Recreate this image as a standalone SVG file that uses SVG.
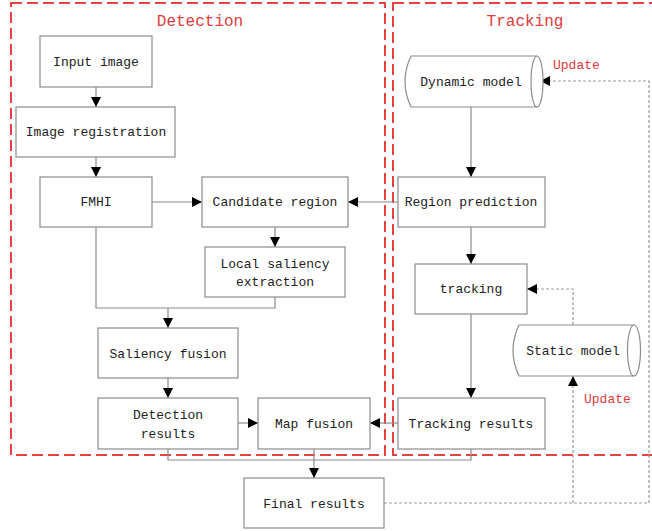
<svg xmlns="http://www.w3.org/2000/svg" width="652" height="531" viewBox="0 0 652 531">
<defs>
<marker id="ah" viewBox="0 0 10 10" refX="10" refY="5" markerWidth="10" markerHeight="10" markerUnits="userSpaceOnUse" orient="auto">
<path d="M0,0 L10,5 L0,10 z" fill="#000"/>
</marker>
<style>
.box{fill:#fff;stroke:#8c8c8c;stroke-width:1.2}
.t{font-family:"Liberation Mono",monospace;font-size:13px;fill:#222;text-anchor:middle}
.grp{fill:none;stroke:#e8413f;stroke-width:2;stroke-dasharray:11,5}
.gt{font-family:"Liberation Mono",monospace;font-size:16px;fill:#e03a3a;text-anchor:middle}
.up{font-family:"Liberation Mono",monospace;font-size:13px;fill:#e03a3a}
.c{fill:none;stroke:#8a8a8a;stroke-width:1.2}
.cd{fill:none;stroke:#999;stroke-width:1.2;stroke-dasharray:3,2}
</style>
</defs>
<rect width="652" height="531" fill="#fff"/>
<g id="groups">
<rect class="grp" x="11" y="3" width="374" height="452"/>
<rect class="grp" x="393" y="3" width="280" height="452"/>
<text class="gt" x="200" y="26">Detection</text>
<text class="gt" x="525" y="26">Tracking</text>
</g>
<g id="connectors">
<path class="c" d="M96,87 V107" marker-end="url(#ah)"/>
<path class="c" d="M96,157 V177" marker-end="url(#ah)"/>
<path class="c" d="M152,202 H202" marker-end="url(#ah)"/>
<path class="c" d="M398,202 H348" marker-end="url(#ah)"/>
<path class="c" d="M275,227 V247" marker-end="url(#ah)"/>
<path class="c" d="M96,227 V308 H275 V297"/>
<path class="c" d="M168,308 V328" marker-end="url(#ah)"/>
<path class="c" d="M168,378 V398" marker-end="url(#ah)"/>
<path class="c" d="M238,423 H258" marker-end="url(#ah)"/>
<path class="c" d="M398,423 H370" marker-end="url(#ah)"/>
<path class="c" d="M168,449 V460 H471 V449"/>
<path class="c" d="M314,449 V478" marker-end="url(#ah)"/>
<path class="c" d="M471,107 V177" marker-end="url(#ah)"/>
<path class="c" d="M471,227 V264" marker-end="url(#ah)"/>
<path class="c" d="M471,314 V398" marker-end="url(#ah)"/>
<path class="cd" d="M573,325 V289 H527" marker-end="url(#ah)"/>
<path class="cd" d="M384,503 H649 V81 H540" marker-end="url(#ah)"/>
<path class="cd" d="M573,503 V376" marker-end="url(#ah)"/>
<text class="up" x="553" y="69">Update</text>
<text class="up" x="584" y="403">Update</text>
</g>
<g id="input-image"><rect class="box" x="40" y="36" width="112" height="51"/><text class="t" x="96" y="66">Input image</text></g>
<g id="image-registration"><rect class="box" x="16" y="107" width="159" height="50"/><text class="t" x="96" y="136">Image registration</text></g>
<g id="fmhi"><rect class="box" x="40" y="177" width="112" height="50"/><text class="t" x="96" y="206">FMHI</text></g>
<g id="candidate-region"><rect class="box" x="202" y="177" width="146" height="50"/><text class="t" x="275" y="206">Candidate region</text></g>
<g id="local-saliency"><rect class="box" x="205" y="247" width="140" height="50"/><text class="t" x="275" y="268">Local saliency</text><text class="t" x="275" y="286">extraction</text></g>
<g id="saliency-fusion"><rect class="box" x="98" y="328" width="140" height="50"/><text class="t" x="168" y="358">Saliency fusion</text></g>
<g id="detection-results"><rect class="box" x="98" y="398" width="140" height="51"/><text class="t" x="168" y="419">Detection</text><text class="t" x="168" y="438">results</text></g>
<g id="map-fusion"><rect class="box" x="258" y="398" width="112" height="51"/><text class="t" x="314" y="428">Map fusion</text></g>
<g id="final-results"><rect class="box" x="244" y="478" width="140" height="50"/><text class="t" x="314" y="508">Final results</text></g>
<g id="dynamic-model">
<path class="box" d="M411,56 H537 A6,25.5 0 0 1 537,107 H411 Q399,81.5 411,56 z"/>
<path class="box" d="M537,56 A6,25.5 0 0 0 537,107"/>
<text class="t" x="471" y="86">Dynamic model</text>
</g>
<g id="region-prediction"><rect class="box" x="398" y="177" width="147" height="50"/><text class="t" x="471" y="206">Region prediction</text></g>
<g id="tracking"><rect class="box" x="415" y="264" width="112" height="50"/><text class="t" x="471" y="293">tracking</text></g>
<g id="static-model">
<path class="box" d="M519,325 H634 A6.5,25.5 0 0 1 634,376 H519 Q507,350.5 519,325 z"/>
<path class="box" d="M634,325 A6.5,25.5 0 0 0 634,376"/>
<text class="t" x="573" y="355">Static model</text>
</g>
<g id="tracking-results"><rect class="box" x="398" y="398" width="147" height="51"/><text class="t" x="471" y="428">Tracking results</text></g>
</svg>
